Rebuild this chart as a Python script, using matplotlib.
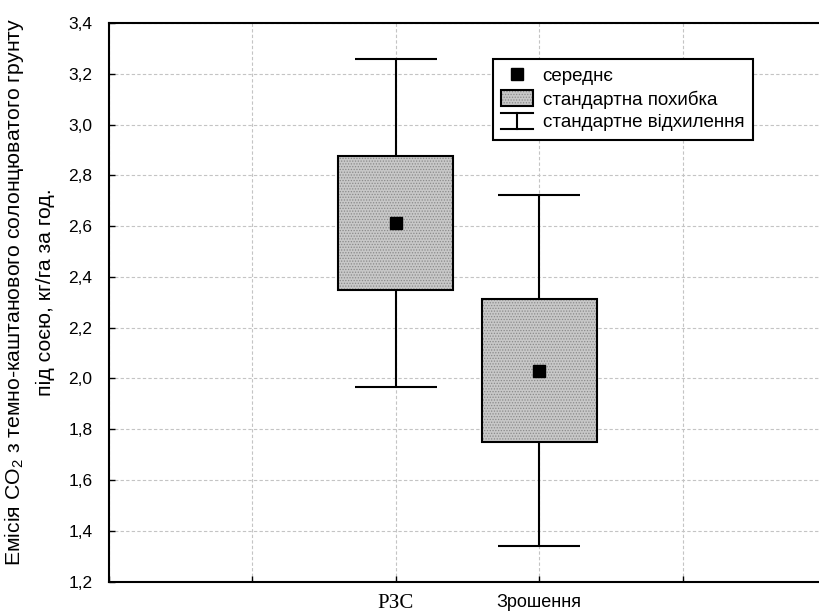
import numpy as np
import matplotlib.pyplot as plt
from matplotlib.lines import Line2D
from matplotlib.patches import Patch, Rectangle
from matplotlib.legend_handler import HandlerBase
from matplotlib.ticker import FuncFormatter, MultipleLocator

plt.rcParams['font.family'] = ['Liberation Sans', 'DejaVu Sans']
plt.rcParams['mathtext.fontset'] = 'custom'
plt.rcParams['mathtext.rm'] = 'Liberation Sans'
plt.rcParams['mathtext.it'] = 'Liberation Sans:italic'
plt.rcParams['hatch.linewidth'] = 0.6

# values
categories = ['РЗС', 'Зрошення']
positions = [2, 3]
means = np.array([2.613, 2.031])
se = np.array([0.264, 0.283])
sd = np.array([0.645, 0.692])

legend_labels = ['середнє', 'стандартна похибка', 'стандартне відхилення']

BOX_FILL = '#c8c8c8'
HATCH_COL = '#8a8a8a'


class HandlerHatchBox(HandlerBase):
    def create_artists(self, legend, orig_handle, xd, yd, w, h, fontsize, trans):
        fill = Rectangle((-xd, -yd - 1), w, h + 2, facecolor=BOX_FILL, edgecolor=HATCH_COL,
                         hatch='......', lw=0, transform=trans)
        edge = Rectangle((-xd, -yd - 1), w, h + 2, fill=False, edgecolor='black', lw=1.5,
                         transform=trans)
        return [fill, edge]


class HandlerWhisker(HandlerBase):
    def create_artists(self, legend, orig_handle, xd, yd, w, h, fontsize, trans):
        x0, x1 = -xd, -xd + w
        xm = (x0 + x1) / 2
        y0, y1 = -yd - 1, -yd + h + 1
        top = Line2D([x0, x1], [y1, y1], color='black', lw=1.5, transform=trans)
        bot = Line2D([x0, x1], [y0, y0], color='black', lw=1.5, transform=trans)
        vert = Line2D([xm, xm], [y0, y1], color='black', lw=1.5, transform=trans)
        return [top, bot, vert]


class WhiskerKey:
    pass


fig = plt.figure(figsize=(8.2, 6.14), dpi=100)
ax = fig.add_axes([109 / 820, 1 - 581.5 / 614, 717 / 820, 558.5 / 614])

half_box = 0.4
half_cap = 0.285

# SD whiskers
for x, m, s in zip(positions, means, sd):
    ax.vlines(x, m - s, m + s, color='black', lw=1.5, zorder=2)
    ax.hlines([m - s, m + s], x - half_cap, x + half_cap, color='black', lw=1.5, zorder=2)

# SE boxes
ax.bar(positions, 2 * se, bottom=means - se, width=2 * half_box, color=BOX_FILL,
       edgecolor=HATCH_COL, hatch='......', lw=0, zorder=3)
ax.bar(positions, 2 * se, bottom=means - se, width=2 * half_box, fill=False,
       edgecolor='black', lw=1.5, zorder=4)

# means
ax.plot(positions, means, 's', color='black', ms=8, zorder=5)

ax.set_xlim(0, 5)
ax.set_ylim(1.2, 3.4)
ax.yaxis.set_major_locator(MultipleLocator(0.2))
ax.yaxis.set_major_formatter(FuncFormatter(lambda v, p: f'{v:.1f}'.replace('.', ',')))
ax.set_xticks([0, 1, 2, 3, 4, 5])
ax.set_xticklabels(['', '', categories[0], categories[1], '', ''])

ax.tick_params(axis='both', direction='in', length=4, width=1, labelsize=12.5)
ax.tick_params(axis='y', pad=12)
ax.tick_params(axis='x', pad=9)
xt = ax.get_xticklabels()
xt[2].set_fontfamily('Liberation Serif')
xt[2].set_fontsize(15)
xt[3].set_fontsize(13)

ax.grid(True, color='#c4c4c4', ls='--', lw=0.8, dashes=(3, 2))
ax.set_axisbelow(True)
for sp in ax.spines.values():
    sp.set_linewidth(1.5)
ax.spines['right'].set_visible(False)

ax.set_ylabel('Емісія CO$_2$ з темно-каштанового солонцюватого грунту\nпід соєю, кг/га за год.',
              fontsize=15.3, linespacing=1.65)
ax.yaxis.set_label_coords(-0.076, 0.518)

handles = [Line2D([], [], marker='s', color='black', ls='none', ms=8),
           Patch(), WhiskerKey()]
leg = ax.legend(handles, legend_labels, loc='upper left', bbox_to_anchor=(0.5356, 0.9355),
                borderaxespad=0, fontsize=13.5, handlelength=1.7, handletextpad=0.5,
                borderpad=0.45, labelspacing=0.3, fancybox=False, framealpha=1,
                edgecolor='black',
                handler_map={Patch: HandlerHatchBox(), WhiskerKey: HandlerWhisker()})
leg.get_frame().set_linewidth(1.5)

fig.savefig('out.png', dpi=100)
